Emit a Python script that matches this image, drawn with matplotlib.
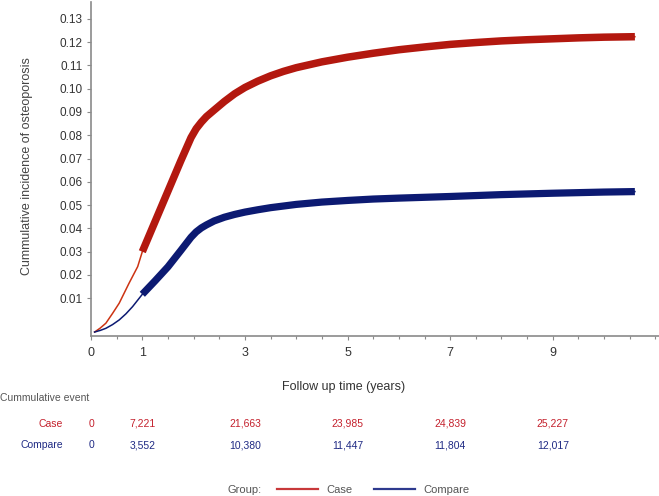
import numpy as np
import matplotlib
matplotlib.use('Agg')
import matplotlib.pyplot as plt
from matplotlib.lines import Line2D
from matplotlib.ticker import MultipleLocator, FixedLocator
from matplotlib.transforms import blended_transform_factory

plt.rcParams['font.family'] = ['Liberation Sans', 'DejaVu Sans']

# cumulative incidence (years, proportion)
case_t = [0.07, 0.18, 0.29, 0.42, 0.55, 0.74, 0.91, 1.0,
          1.25, 1.5, 1.75, 1.95, 2.05, 2.15, 2.25, 2.4, 2.6, 2.8, 3.0, 3.25, 3.5, 3.75,
          4.0, 4.5, 5.0, 5.5, 6.0, 6.5, 7.0, 7.5, 8.0, 8.5, 9.0, 9.5, 10.0, 10.6]
case_y = [-0.0045, -0.0028, -0.0007, 0.0035, 0.0079, 0.0164, 0.0236, 0.0300,
          0.0430, 0.0560, 0.0690, 0.0790, 0.0828, 0.0856, 0.0880, 0.0908, 0.0945, 0.0978, 0.1005, 0.1032, 0.1055, 0.1074,
          0.1090, 0.1115, 0.1135, 0.1152, 0.1167, 0.1179, 0.1190, 0.1198, 0.1205, 0.1210, 0.1214, 0.1218, 0.1221, 0.1223]

comp_t = [0.07, 0.18, 0.29, 0.42, 0.55, 0.68, 0.81, 1.0,
          1.25, 1.5, 1.75, 1.95, 2.05, 2.15, 2.25, 2.4, 2.6, 2.8, 3.0, 3.25, 3.5, 3.75, 4.0, 4.5, 5.0,
          5.5, 6.0, 7.0, 8.0, 9.0, 10.0, 10.6]
comp_y = [-0.0045, -0.0038, -0.0029, -0.0013, 0.0007, 0.0033, 0.0064, 0.0117,
          0.0175, 0.0235, 0.0305, 0.0362, 0.0385, 0.0402, 0.0415, 0.0432, 0.0448, 0.0460, 0.0470, 0.0480, 0.0489, 0.0496, 0.0503, 0.0513, 0.0520,
          0.0526, 0.0530, 0.0537, 0.0545, 0.0551, 0.0556, 0.0558]

# cumulative events table
table_times = [0, 1, 3, 5, 7, 9]
case_events = ['0', '7,221', '21,663', '23,985', '24,839', '25,227']
comp_events = ['0', '3,552', '10,380', '11,447', '11,804', '12,017']

x_major = [0, 1, 3, 5, 7, 9]
y_ticks = [0.01, 0.02, 0.03, 0.04, 0.05, 0.06, 0.07, 0.08, 0.09, 0.10, 0.11, 0.12, 0.13]

RED = '#b3180f'
RED_THIN = '#cc3312'
BLUE = '#0c1a72'
RED_TXT = '#c4202c'
BLUE_TXT = '#1f2a84'

W, H = 659, 496
fig = plt.figure(figsize=(W / 100, H / 100), dpi=100)
ax = fig.add_axes([91 / W, 1 - 336 / H, 1 - 91 / W, (336 - 2) / H])


def split(t, y, t0=1.0):
    t = np.array(t)
    y = np.array(y)
    m = t >= t0
    return t, y, t[m], y[m]


ct, cy, ct_thick, cy_thick = split(case_t, case_y)
bt, by, bt_thick, by_thick = split(comp_t, comp_y)

ax.plot(ct, cy, color=RED_THIN, lw=1.1)
ax.plot(ct_thick, cy_thick, color=RED, lw=5.4, solid_capstyle='butt', solid_joinstyle='round')
ax.plot(bt, by, color=BLUE, lw=1.1)
ax.plot(bt_thick, by_thick, color=BLUE, lw=5.2, solid_capstyle='butt', solid_joinstyle='round')

ax.set_xlim(0, 11.07)
ax.set_ylim(-0.0062, 0.1372)
ax.xaxis.set_major_locator(FixedLocator(x_major))
ax.xaxis.set_minor_locator(MultipleLocator(0.5))
ax.set_yticks(y_ticks)
ax.set_yticklabels(['%.2f' % v for v in y_ticks])

for s in ['top', 'right']:
    ax.spines[s].set_visible(False)
for s in ['left', 'bottom']:
    ax.spines[s].set_color('#8a8a8a')
    ax.spines[s].set_linewidth(1.2)

ax.tick_params(axis='y', length=3, width=0.8, color='#8a8a8a', labelsize=8.5,
               labelcolor='#333333', pad=3)
ax.tick_params(axis='x', which='major', length=3, width=0.8, color='#8a8a8a',
               labelsize=9, labelcolor='#333333', pad=5)
ax.tick_params(axis='x', which='minor', length=2, width=0.8, color='#8a8a8a')

fig.text(27 / W, 1 - 166 / H, 'Cummulative incidence of osteoporosis', rotation=90,
         ha='center', va='center', fontsize=9, color='#444444')
fig.text(344 / W, 1 - 387 / H, 'Follow up time (years)', ha='center', va='center',
         fontsize=9, color='#333333')
fig.text(0.5 / W, 1 - 398 / H, 'Cummulative event', ha='left', va='center',
         fontsize=7.5, color='#555555')

# risk table rows
tr = blended_transform_factory(ax.transData, fig.transFigure)
fig.text(63 / W, 1 - 424 / H, 'Case', ha='right', va='center', fontsize=7.5, color=RED_TXT)
fig.text(63 / W, 1 - 445 / H, 'Compare', ha='right', va='center', fontsize=7.5, color=BLUE_TXT)
for t, a, b in zip(table_times, case_events, comp_events):
    ax.text(t, 1 - 424 / H, a, transform=tr, ha='center', va='center', fontsize=7.5,
            color=RED_TXT, clip_on=False)
    ax.text(t, 1 - 445 / H, b, transform=tr, ha='center', va='center', fontsize=7.5,
            color=BLUE_TXT, clip_on=False)

# legend
fig.text(228 / W, 1 - 490 / H, 'Group:', ha='left', va='center', fontsize=8, color='#555555')
handles = [Line2D([], [], color='#c8383a', lw=1.6),
           Line2D([], [], color='#2e3a8e', lw=1.6)]
fig.legend(handles, ['Case', 'Compare'], loc='center left',
           bbox_to_anchor=(277 / W, 1 - 490 / H), ncol=2, frameon=False,
           fontsize=8, handlelength=3.7, handletextpad=0.7, columnspacing=2.0,
           borderpad=0, borderaxespad=0, labelcolor='#555555')

fig.savefig('out.png', dpi=100)
